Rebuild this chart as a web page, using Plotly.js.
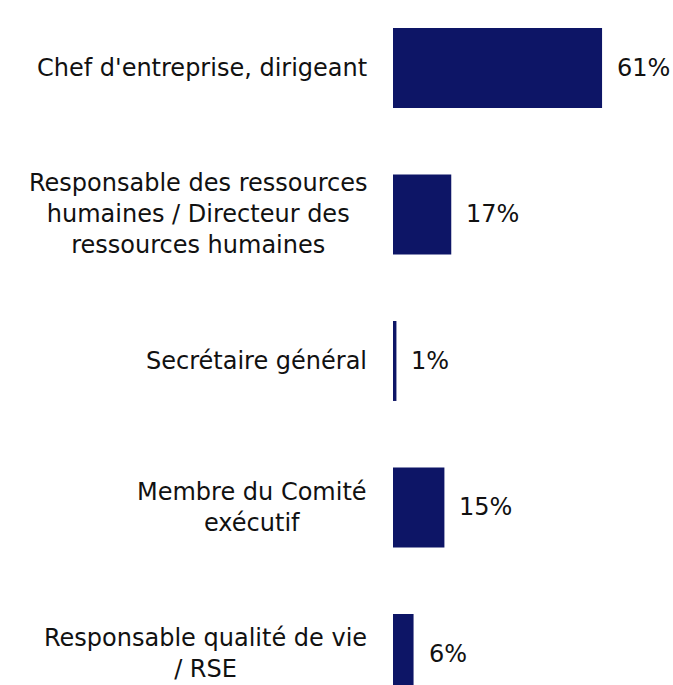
<!DOCTYPE html>
<html>
<head>
<meta charset="utf-8">
<script src="https://cdn.plot.ly/plotly-3.0.1.min.js"></script>
<style>html,body{margin:0;padding:0;background:#fff;}#chart{width:673px;height:685px;}</style>
</head>
<body>
<div id="chart"></div>
<script>
var categories = [
  "Chef d'entreprise, dirigeant",
  "Responsable des ressources<br>humaines / Directeur des<br>ressources humaines",
  "Secrétaire général",
  "Membre du Comité<br>exécutif",
  "Responsable qualité de vie<br>/ RSE"
];
var values = [61, 17, 1, 15, 6];
var valueLabels = ["61%", "17%", "1%", "15%", "6%"];

var FONT = "'DejaVu Sans', sans-serif";
var barColor = "#0d1566";

var trace = {
  type: "bar",
  orientation: "h",
  x: values,
  y: categories.map(function(c, i){ return i; }),
  marker: {color: barColor, line: {width: 0}},
  width: 0.546,
  hoverinfo: "none"
};

var annotations = [];
categories.forEach(function(c, i){
  annotations.push({
    xref: "paper", yref: "y", x: 0, y: i,
    xanchor: "right", yanchor: "middle", xshift: -24,
    align: "center", text: c, showarrow: false,
    font: {family: FONT, size: 24, color: "#111111"}
  });
  annotations.push({
    xref: "x", yref: "y", x: values[i], y: i,
    xanchor: "left", yanchor: "middle", xshift: 13,
    text: valueLabels[i], showarrow: false,
    font: {family: FONT, size: 24, color: "#111111"}
  });
});

var layout = {
  width: 673, height: 685,
  margin: {l: 393, r: 0, t: 0, b: 0, pad: 0},
  paper_bgcolor: "#fff", plot_bgcolor: "#fff",
  showlegend: false,
  xaxis: {range: [0, 81.7], visible: false, fixedrange: true},
  yaxis: {range: [4.212, -0.464], visible: false, fixedrange: true},
  annotations: annotations
};

Plotly.newPlot("chart", [trace], layout, {displayModeBar: false, staticPlot: true});
</script>
</body>
</html>
